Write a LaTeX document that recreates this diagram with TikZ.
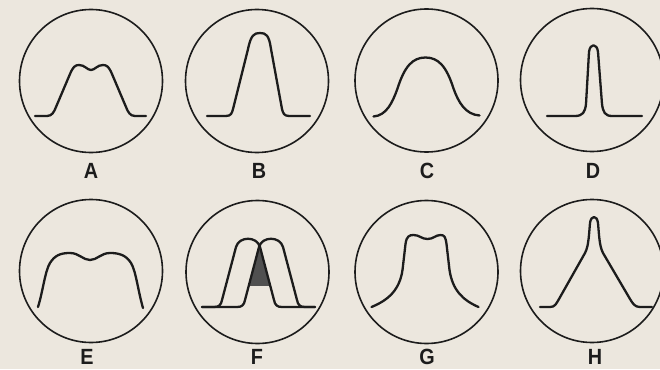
\documentclass[tikz,border=0pt]{standalone}
\usepackage{fontspec}
\setmainfont{Liberation Sans}
\definecolor{paper}{RGB}{236,231,222}
\definecolor{ink}{RGB}{28,28,28}
\definecolor{darkfill}{RGB}{80,80,80}
\begin{document}
\begin{tikzpicture}[x=1pt,y=-1pt,
  dial/.style={circle,draw=ink,line width=1.6pt,minimum size=143pt,inner sep=0pt},
  trace/.style={draw=ink,line width=2.3pt,line join=round,line cap=round},
  lbl/.style={font=\bfseries\fontsize{22}{22}\selectfont,text=ink,inner sep=0pt}]
\fill[paper] (0,0) rectangle (660,369);
\useasboundingbox (0,0) rectangle (660,369);

% dials
\node[dial] (cA) at (91,81) {};
\node[dial] (cB) at (257,81) {};
\node[dial] (cC) at (426.5,80.5) {};
\node[dial] (cD) at (592,80) {};
\node[dial] (cE) at (91,271) {};
\node[dial] (cF) at (257.5,272) {};
\node[dial] (cG) at (426.5,272) {};
\node[dial] (cH) at (592,271) {};

% labels
\node[lbl] (lA) at (91,170.5) {\scalebox{0.9}[1]{A}};
\node[lbl] (lB) at (259,170.5) {\scalebox{0.9}[1]{B}};
\node[lbl] (lC) at (427,170.5) {\scalebox{0.9}[1]{C}};
\node[lbl] (lD) at (593,170.5) {\scalebox{0.9}[1]{D}};
\node[lbl] (lE) at (87,357) {\scalebox{0.9}[1]{E}};
\node[lbl] (lF) at (257,357) {\scalebox{0.9}[1]{F}};
\node[lbl] (lG) at (427,357) {\scalebox{0.9}[1]{G}};
\node[lbl] (lH) at (595,357) {\scalebox{0.9}[1]{H}};

% A
\begin{scope}[shift={(cA)}]
\draw[trace] (-56,35) -- (-44,35) .. controls (-39,35) and (-37,31) .. (-35,26)
  -- (-21,-7) .. controls (-18,-14) and (-16,-16) .. (-12,-16)
  .. controls (-6,-16) and (-4,-11) .. (0,-11)
  .. controls (4,-11) and (6,-16) .. (12,-16)
  .. controls (16,-16) and (18,-14) .. (21,-7)
  -- (35,26) .. controls (37,31) and (39,35) .. (44,35) -- (55,35);
\end{scope}

% B
\begin{scope}[shift={(cB)}]
\draw[trace] (-50,35) -- (-31,35) .. controls (-26,35) and (-25,32) .. (-24,28)
  -- (-9,-32) .. controls (-6,-46) and (-3,-48) .. (3,-48)
  .. controls (9,-48) and (12,-46) .. (14,-32)
  -- (25,28) .. controls (26,32) and (27,35) .. (32,35) -- (53,35);
\end{scope}

% C
\begin{scope}[shift={(cC)}]
\draw[trace] (-53,36) .. controls (-40,35) and (-34,22) .. (-29,8)
  .. controls (-22,-14) and (-14,-23) .. (-1,-23)
  .. controls (12,-23) and (20,-14) .. (27,8)
  .. controls (32,22) and (39,34) .. (53,35);
\end{scope}

% D
\begin{scope}[shift={(cD)}]
\draw[trace] (-45,36) -- (-17,36) .. controls (-9,36) and (-7,32) .. (-6,24)
  -- (-3,-28) .. controls (-2,-37) and (5,-37) .. (6,-28)
  -- (10,24) .. controls (11,32) and (13,36) .. (20,36) -- (50,36);
\end{scope}

% E
\begin{scope}[shift={(cE)}]
\draw[trace] (-53,36) .. controls (-48,20) and (-46,0) .. (-41,-8)
  .. controls (-36,-16) and (-30,-18) .. (-21,-18)
  .. controls (-12,-18) and (-8,-11) .. (-1,-11)
  .. controls (6,-11) and (10,-18) .. (19,-18)
  .. controls (28,-18) and (35,-16) .. (40,-8)
  .. controls (45,0) and (47,20) .. (52,37);
\end{scope}

% F
\begin{scope}[shift={(cF)}]
  \begin{scope}
    \path[clip,shift={(-9.5,35)}] (-34,0) .. controls (-29,0) and (-27,-2) .. (-26,-7)
      -- (-12,-60) .. controls (-9,-71) and (9,-71) .. (12,-60)
      -- (26,-7) .. controls (27,-2) and (29,0) .. (34,0) -- cycle;
    \path[clip,shift={(13.5,35)}] (-34,0) .. controls (-29,0) and (-27,-2) .. (-26,-7)
      -- (-12,-60) .. controls (-9,-71) and (9,-71) .. (12,-60)
      -- (26,-7) .. controls (27,-2) and (29,0) .. (34,0) -- cycle;
    \fill[darkfill] (-40,-45) rectangle (40,14);
  \end{scope}
  \draw[trace,shift={(-9.5,35)}] (-46,0) -- (-34,0) .. controls (-29,0) and (-27,-2) .. (-26,-7)
      -- (-12,-60) .. controls (-9,-71) and (9,-71) .. (12,-60)
      -- (26,-7) .. controls (27,-2) and (29,0) .. (34,0) -- (67,0);
  \draw[trace,shift={(13.5,35)}] (-69,0) -- (-34,0) .. controls (-29,0) and (-27,-2) .. (-26,-7)
      -- (-12,-60) .. controls (-9,-71) and (9,-71) .. (12,-60)
      -- (26,-7) .. controls (27,-2) and (29,0) .. (34,0) -- (44,0);
\end{scope}

% G
\begin{scope}[shift={(cG)}]
\draw[trace] (-55,35) .. controls (-38,28) and (-27,18) .. (-24,-2)
  -- (-21,-28) .. controls (-20,-36) and (-17,-37) .. (-13,-37)
  .. controls (-7,-37) and (-5,-33) .. (1,-33)
  .. controls (7,-33) and (9,-37) .. (14,-37)
  .. controls (18,-37) and (19,-35) .. (20,-28)
  -- (23,-2) .. controls (26,18) and (36,28) .. (52,35);
\end{scope}

% H
\begin{scope}[shift={(cH)}]
\draw[trace] (-52,36) -- (-42,36) .. controls (-37,36) and (-36,33) .. (-33,28)
  -- (-7,-18) .. controls (-5,-22) and (-4,-26) .. (-3,-36)
  -- (-2,-48) .. controls (-1,-56) and (5,-56) .. (6,-48)
  -- (7,-36) .. controls (8,-26) and (9,-22) .. (11,-18)
  -- (38,28) .. controls (41,33) and (43,36) .. (48,36) -- (60,36);
\end{scope}
\end{tikzpicture}
\end{document}
